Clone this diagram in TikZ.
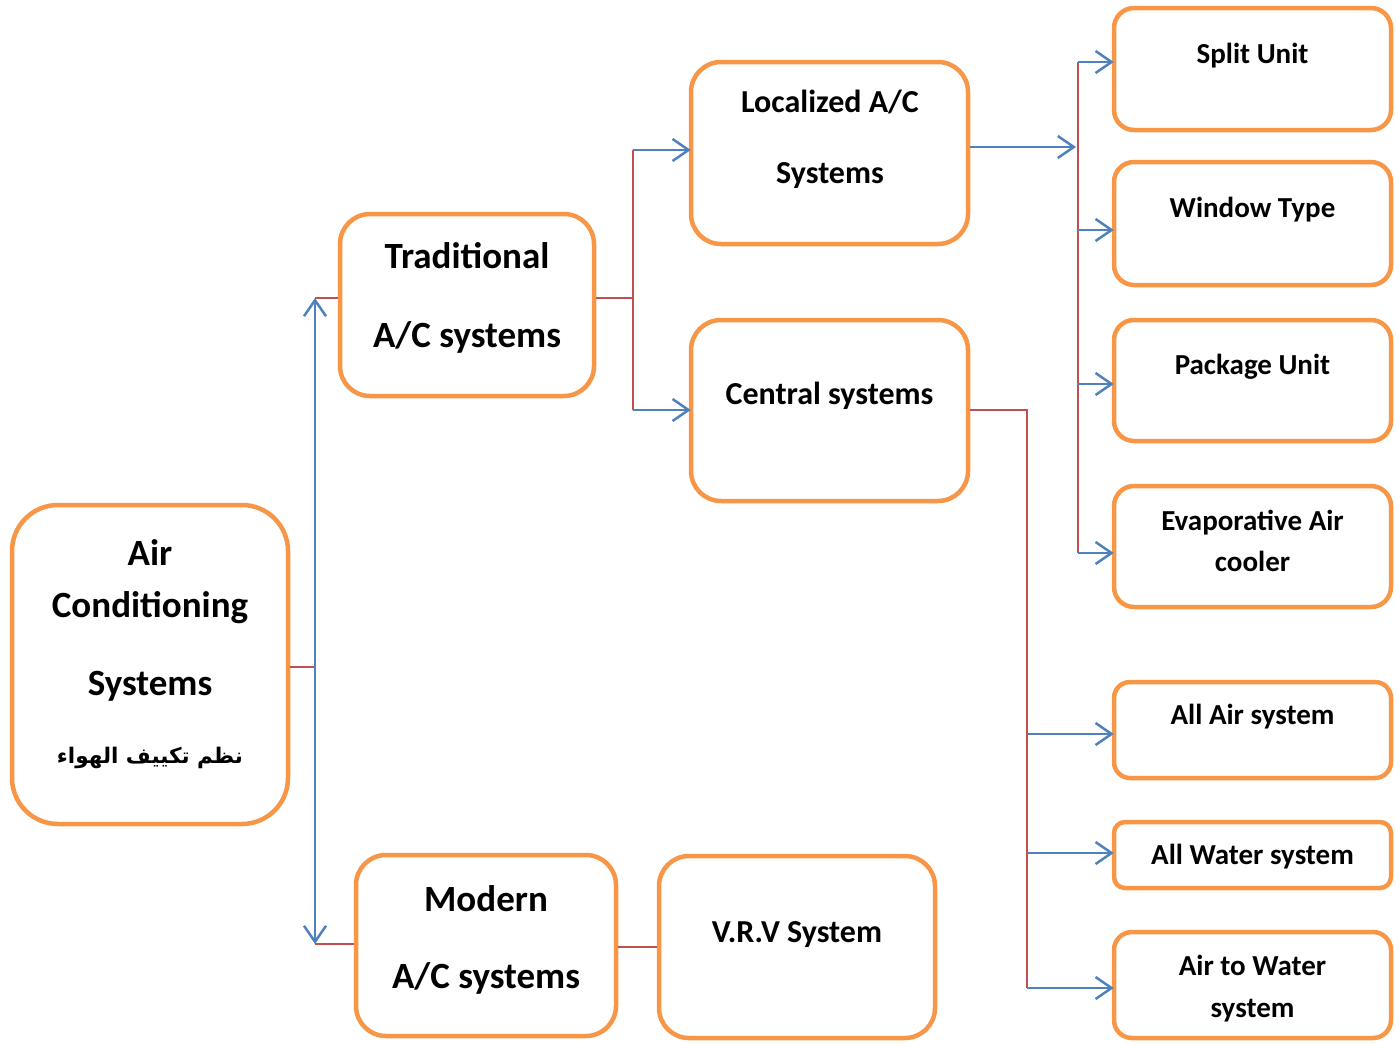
\documentclass[tikz,border=0pt]{standalone}
\usepackage{fontspec}
\setmainfont{Carlito}
\newfontfamily\arabicfont[Script=Arabic]{DejaVu Sans}
\TeXXeTstate=1
\usetikzlibrary{arrows.meta}
\definecolor{boxor}{HTML}{F79646}
\definecolor{linered}{HTML}{C0504D}
\definecolor{lineblue}{HTML}{4F81BD}
\tikzset{
  >={Straight Barb[length=16pt,width=22pt]},
  box/.style n args={3}{draw=boxor, line width=4.5pt, rounded corners=#3,
    minimum width=#1, minimum height=#2, inner sep=0pt, fill=white},
  lbl/.style={anchor=base, font=\bfseries\fontsize{#1}{#1}\selectfont, inner sep=0pt},
  redl/.style={draw=linered, line width=2pt},
  bluea/.style={draw=lineblue, line width=2.5pt, ->, shorten >=-2pt},
}
\begin{document}
\begin{tikzpicture}[x=1pt,y=-1pt]
\useasboundingbox (0,0) rectangle (1396,1044);
% boxes
\node[box={276pt}{319pt}{46pt}] (ac) at (150,664.5) {};
\node[box={254pt}{182pt}{30pt}] (trad) at (467,305) {};
\node[box={260pt}{181pt}{30pt}] (modern) at (486,945.5) {};
\node[box={276pt}{182pt}{30pt}] (vrv) at (797,947) {};
\node[box={277pt}{182pt}{30pt}] (loc) at (829.5,153) {};
\node[box={277pt}{181pt}{30pt}] (cen) at (829.5,410.5) {};
\node[box={277pt}{122pt}{20pt}] (split) at (1252.5,69) {};
\node[box={277pt}{123pt}{20pt}] (window) at (1252.5,223.5) {};
\node[box={277pt}{121pt}{20pt}] (package) at (1252.5,380.5) {};
\node[box={277pt}{121pt}{20pt}] (evap) at (1252.5,546.5) {};
\node[box={277pt}{96pt}{16pt}] (allair) at (1252.5,730) {};
\node[box={277pt}{66pt}{11pt}] (allwater) at (1252.5,855) {};
\node[box={277pt}{106pt}{18pt}] (atw) at (1252.5,985) {};
% texts
\node[lbl=37] (ac1) at (150,565) {Air};
\node[lbl=37] (ac2) at (150,617) {Conditioning};
\node[lbl=37] (ac3) at (150,695) {Systems};
\node[lbl=21.5] (ac4) at (150,763) {\arabicfont\beginR نظم تكييف الهواء\endR};
\node[lbl=37] (trad1) at (467,268) {Traditional};
\node[lbl=37] (trad2) at (467,347) {A/C systems};
\node[lbl=37] (mod1) at (486,911) {Modern};
\node[lbl=37] (mod2) at (486,988) {A/C systems};
\node[lbl=32] (vrv1) at (797,942) {V.R.V System};
\node[lbl=32] (loc1) at (830,112) {Localized A/C};
\node[lbl=32] (loc2) at (830,183) {Systems};
\node[lbl=32] (cen1) at (829.5,404) {Central systems};
\node[lbl=29] (split1) at (1252.5,63) {Split Unit};
\node[lbl=29] (win1) at (1252.5,217) {Window Type};
\node[lbl=29] (pack1) at (1252.5,374) {Package Unit};
\node[lbl=29] (evap1) at (1252.5,530) {Evaporative Air};
\node[lbl=29] (evap2) at (1252.5,571) {cooler};
\node[lbl=29] (air1) at (1252.5,724) {All Air system};
\node[lbl=29] (wat1) at (1252.5,864) {All Water system};
\node[lbl=29] (atw1) at (1252.5,975) {Air to Water};
\node[lbl=29] (atw2) at (1252.5,1017) {system};
% junction coordinates
\coordinate (ja) at (315,298);
\coordinate (jb) at (315,944);
\coordinate (jac) at (315,667);
\coordinate (jv) at (637,947);
\coordinate (t1) at (633,298);
\coordinate (t2) at (633,150);
\coordinate (t3) at (633,410);
\coordinate (l1) at (1076,147);
\coordinate (r0) at (1078,62);
\coordinate (r1) at (1078,230);
\coordinate (r2) at (1078,384);
\coordinate (r3) at (1078,553);
\coordinate (c0) at (1027,410);
\coordinate (c1) at (1027,734);
\coordinate (c2) at (1027,853);
\coordinate (c3) at (1027,988);
% connectors
\draw[redl] (jac -| ac.east) -- (jac);
\draw[redl] (ja) -- (ja -| trad.west);
\draw[redl] (jb) -- (jb -| modern.west);
\draw[draw=lineblue, line width=2.5pt, <->] (ja) -- (jb);
\draw[redl] (jv -| modern.east) -- (jv -| vrv.west);
\draw[redl] (t1 -| trad.east) -- (t1);
\draw[redl] (t2) -- (t3);
\draw[bluea] (t2) -- (t2 -| loc.west);
\draw[bluea] (t3) -- (t3 -| cen.west);
\draw[bluea, shorten >=0pt] (l1 -| loc.east) -- (l1);
\draw[redl] (r0) -- (r3);
\draw[bluea] (r0) -- (r0 -| split.west);
\draw[bluea] (r1) -- (r1 -| window.west);
\draw[bluea] (r2) -- (r2 -| package.west);
\draw[bluea] (r3) -- (r3 -| evap.west);
\draw[redl] (c0 -| cen.east) -- (c0) -- (c3);
\draw[bluea] (c1) -- (c1 -| allair.west);
\draw[bluea] (c2) -- (c2 -| allwater.west);
\draw[bluea] (c3) -- (c3 -| atw.west);
\end{tikzpicture}
\end{document}
